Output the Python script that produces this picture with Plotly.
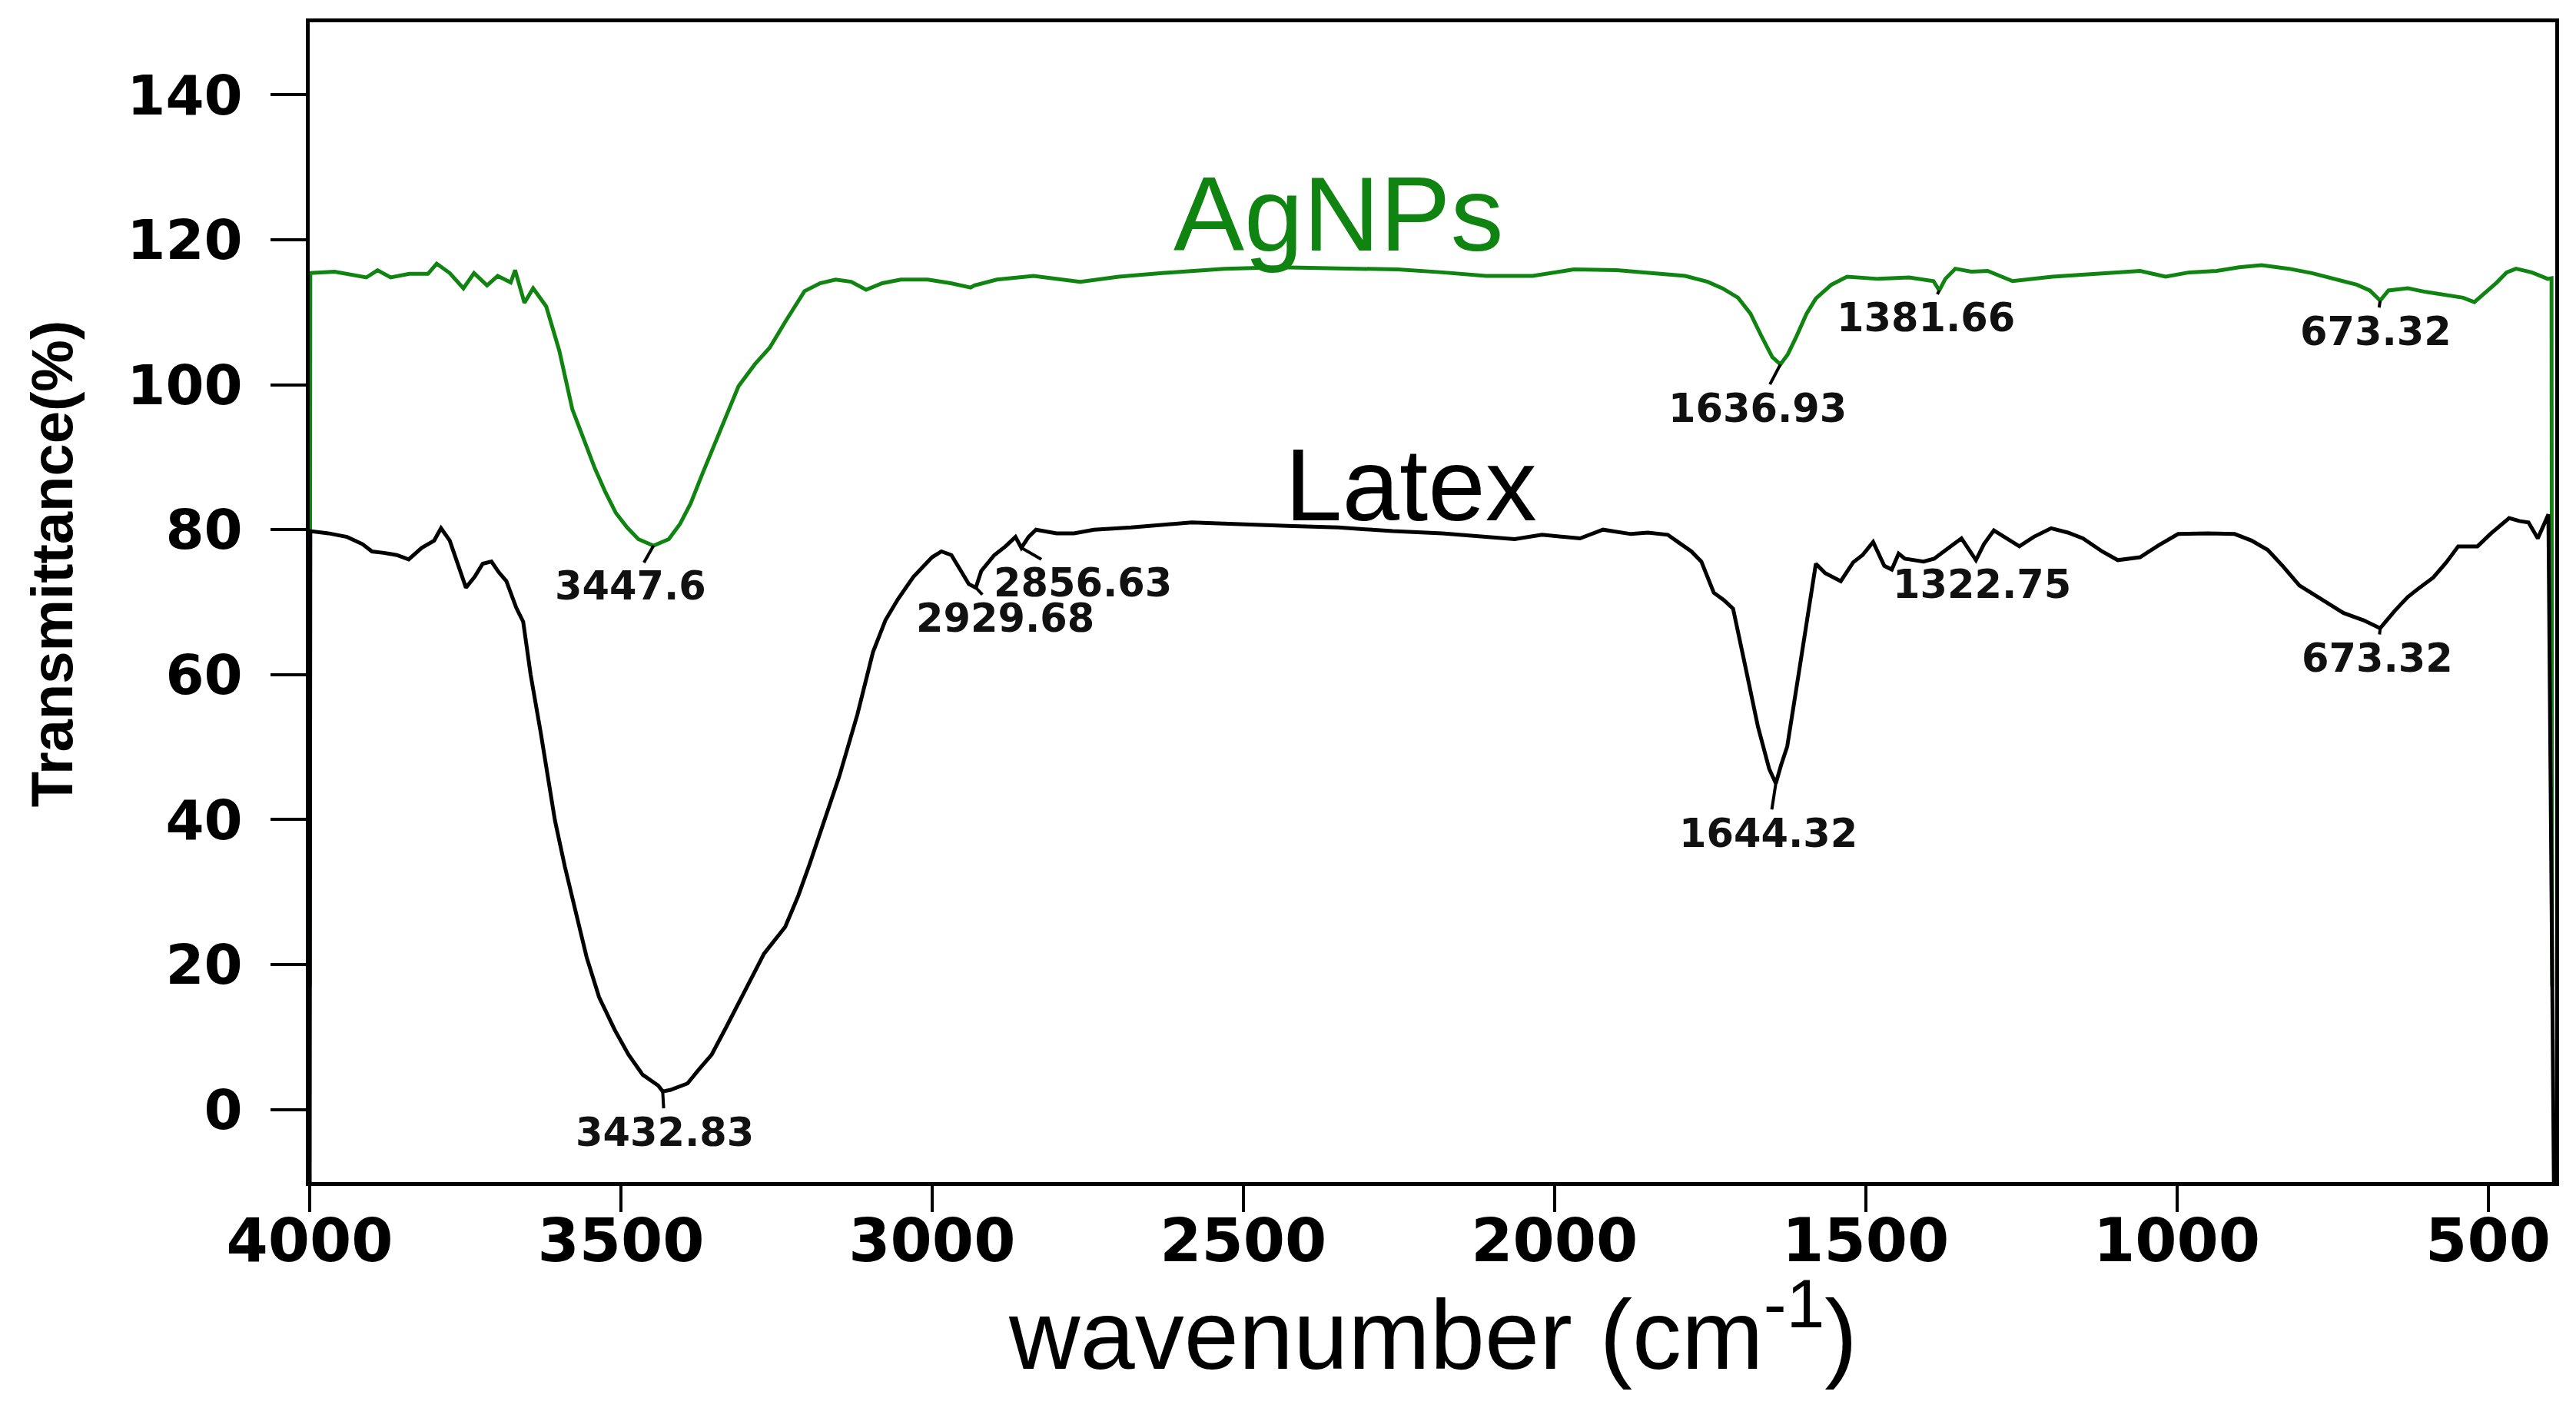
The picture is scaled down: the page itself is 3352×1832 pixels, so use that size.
import plotly.graph_objects as go

# AgNPs spectrum (wavenumber cm-1, transmittance %)
agnps_wn = [4000, 3999, 3960, 3930, 3909, 3891, 3870, 3840, 3810, 3796, 3775, 3753, 3736,
            3715, 3698, 3677, 3670, 3655, 3641, 3620, 3599, 3578, 3560, 3542, 3525, 3508,
            3490, 3472, 3447.6, 3423, 3405, 3388, 3370, 3352, 3330, 3311, 3285, 3261, 3235,
            3205, 3180, 3155, 3130, 3106, 3080, 3050, 3007, 2970, 2938, 2932, 2896, 2837,
            2762, 2700, 2630, 2530, 2441, 2350, 2252, 2180, 2110, 2035, 1969, 1900, 1836,
            1790, 1754, 1730, 1705, 1685, 1668, 1650, 1636.93, 1625, 1611, 1595, 1580, 1555,
            1530, 1480, 1430, 1391, 1381.66, 1372, 1356, 1330, 1304, 1285, 1264, 1200, 1150,
            1100, 1059, 1018, 980, 936, 900, 864, 820, 783, 740, 711, 690, 673.32, 660, 629,
            600, 568, 540, 522, 505, 486, 470, 455, 430, 404, 398, 397]
agnps_t = [17, 115.4, 115.6, 115.2, 114.8, 115.8, 114.8, 115.3, 115.3, 116.7, 115.4, 113.3, 115.4,
           113.7, 115.0, 114.1, 115.8, 111.3, 113.3, 110.8, 104.7, 96.6, 92.5, 88.5, 85.2, 82.3,
           80.3, 78.7, 77.8, 78.7, 80.8, 83.6, 87.5, 91.3, 95.8, 99.8, 102.8, 105.1, 108.8,
           112.9, 114.0, 114.5, 114.2, 113.1, 114.0, 114.5, 114.5, 114.0, 113.4, 113.7, 114.5, 115.0,
           114.2, 114.9, 115.4, 116.0, 116.2, 116.1, 115.9, 115.5, 115.0, 115.0, 115.9, 115.8, 115.4,
           115.0, 114.2, 113.3, 112.0, 109.8, 106.8, 103.8, 102.8, 104.2, 106.7, 109.8, 111.9, 113.8,
           114.9, 114.6, 114.8, 114.3, 113.0, 114.6, 116.0, 115.6, 115.7, 115.0, 114.3, 114.9, 115.2,
           115.4, 115.7, 114.9, 115.5, 115.7, 116.2, 116.5, 116.0, 115.4, 114.5, 113.8, 113.0, 111.6, 113.0, 113.3,
           112.8, 112.4, 112.0, 111.4, 112.6, 114.1, 115.5, 116.0, 115.5, 114.6, 114.7, 17]

# Latex spectrum
latex_wn = [4000, 3999, 3970, 3940, 3915, 3900, 3881, 3860, 3841, 3820, 3800, 3789, 3775, 3762,
            3749, 3735, 3722, 3708, 3696, 3684, 3668, 3657, 3645, 3629, 3606, 3590, 3574, 3555,
            3535, 3510, 3488, 3465, 3440, 3432.83, 3421, 3393, 3375, 3354, 3330, 3299, 3270, 3236,
            3215, 3197, 3175, 3149, 3120, 3095, 3075, 3055, 3030, 3000, 2985, 2969, 2955, 2941,
            2929.68, 2921, 2900, 2882, 2866, 2856.63, 2845, 2833, 2800, 2772, 2740, 2680, 2583,
            2500, 2420, 2347, 2260, 2180, 2110, 2064, 2020, 1959, 1922, 1877, 1850, 1818, 1800,
            1780, 1764, 1744, 1728, 1713, 1693, 1673, 1655, 1644.32, 1636, 1626, 1606, 1590, 1580,
            1565, 1552, 1540, 1520, 1505, 1488, 1470, 1458, 1447, 1437, 1420, 1407, 1390, 1370,
            1346, 1322.75, 1310, 1294, 1270, 1253, 1230, 1202, 1175, 1151, 1120, 1095, 1059, 1030,
            998, 950, 907, 880, 854, 830, 803, 770, 732, 700, 673.32, 650, 629, 610, 588, 567,
            548, 517, 495, 466, 450, 435, 420, 403, 394]
latex_t = [-12, 79.8, 79.5, 79.0, 78.0, 77.0, 76.8, 76.5, 75.9, 77.5, 78.5, 80.2, 78.5, 75.2,
           72.0, 73.5, 75.3, 75.6, 74.1, 72.9, 69.2, 67.3, 60.0, 52.1, 39.9, 33.5, 27.7, 21.0,
           15.5, 11.0, 7.6, 4.8, 3.3, 2.5, 2.7, 3.6, 5.5, 7.6, 11.5, 16.7, 21.5, 25.2,
           29.5, 33.8, 39.5, 46.0, 54.5, 63.1, 67.5, 70.4, 73.5, 76.2, 77.0, 76.5, 74.5, 72.5,
           72.0, 74.3, 76.5, 77.7, 79.0, 77.5, 79.0, 80.0, 79.5, 79.5, 80.0, 80.3, 81.0,
           80.8, 80.5, 80.3, 79.8, 79.5, 79.0, 78.7, 79.3, 78.8, 80.0, 79.4, 79.6, 79.3, 78.2,
           77.0, 75.6, 71.3, 70.3, 69.1, 61.0, 52.8, 47.0, 45.0, 47.5, 50.1, 61.0, 70.0, 75.3,
           74.0, 73.5, 72.9, 75.5, 76.5, 78.3, 75.0, 74.5, 76.7, 76.0, 75.8, 75.6, 76.0, 77.2,
           78.8, 75.8, 78.0, 79.9, 78.6, 77.7, 79.0, 80.2, 79.6, 78.8, 77.0, 75.8, 76.2, 77.8,
           79.4, 79.5, 79.4, 78.5, 77.2, 75.0, 72.3, 70.5, 68.5, 67.5, 66.4, 68.8, 70.7, 72.0, 73.4, 75.5,
           77.7, 77.7, 79.5, 81.6, 81.2, 81.0, 78.8, 82.1, -12]

# labelled peaks
peak_wn = [3447.6, 1636.93, 1381.66, 673.32, 3432.83, 2929.68, 2856.63, 1644.32, 1322.75, 673.32]
peak_t = [77.8, 102.8, 113.0, 111.6, 2.5, 72.0, 77.5, 45.0, 75.8, 66.4]
peak_text = ["3447.6", "1636.93", "1381.66", "673.32", "3432.83", "2929.68", "2856.63",
             "1644.32", "1322.75", "673.32"]
# label offsets from the peak, in pixels
peak_offset = [(-30, 53), (-30, 57), (-18, 36), (-6, 40), (3, 53), (38, 40), (80, 46),
               (-10, 65), (8, 32), (-4, 39)]

green = "rgb(16,132,16)"

fig = go.Figure()
fig.add_trace(go.Scatter(x=agnps_wn, y=agnps_t, mode="lines",
                         line=dict(color=green, width=5), showlegend=False))
fig.add_trace(go.Scatter(x=latex_wn, y=latex_t, mode="lines",
                         line=dict(color="black", width=5), showlegend=False))

for wn, t, txt, (ax, ay) in zip(peak_wn, peak_t, peak_text, peak_offset):
    fig.add_annotation(x=wn, y=t, text=txt, showarrow=True, arrowhead=0,
                       arrowwidth=4, arrowcolor="black", ax=ax, ay=ay,
                       font=dict(family="DejaVu Sans", size=51, color="#111", weight="bold"))

fig.add_annotation(x=2347, y=123.6, text="AgNPs", showarrow=False,
                   font=dict(family="Liberation Sans", size=138, color=green))
fig.add_annotation(x=2230, y=86.2, text="Latex", showarrow=False,
                   font=dict(family="Liberation Sans", size=134, color="black"))

# axis titles
fig.add_annotation(xref="paper", yref="paper", x=-0.1148, y=0.533, xanchor="center",
                   yanchor="middle", text="Transmittance(%)", textangle=-90, showarrow=False,
                   font=dict(family="Liberation Sans", size=76, color="black", weight="bold"))
fig.add_annotation(xref="paper", yref="paper", x=0.5, y=-0.125, yanchor="middle",
                   text="wavenumber (cm<sup>-1</sup>)", showarrow=False,
                   font=dict(family="Liberation Sans", size=128, color="black"))

axis_common = dict(showline=True, mirror=True, linecolor="black", linewidth=5,
                   ticks="outside", tickwidth=4, tickcolor="black",
                   showgrid=False, zeroline=False, layer="below traces")

fig.update_layout(
    width=3352, height=1832,
    margin=dict(l=395, r=35, t=21, b=302),
    paper_bgcolor="white", plot_bgcolor="white",
    xaxis=dict(range=[4000, 392], tick0=500, dtick=500, ticklen=34, ticklabelstandoff=-30,
               tickfont=dict(family="DejaVu Sans", size=78, color="black", weight="bold"),
               **axis_common),
    yaxis=dict(range=[-10, 150], tick0=0, dtick=20, ticklen=46, ticklabelstandoff=22,
               tickfont=dict(family="DejaVu Sans", size=72, color="black", weight="bold"),
               **axis_common),
)

fig.write_html("out.html")
